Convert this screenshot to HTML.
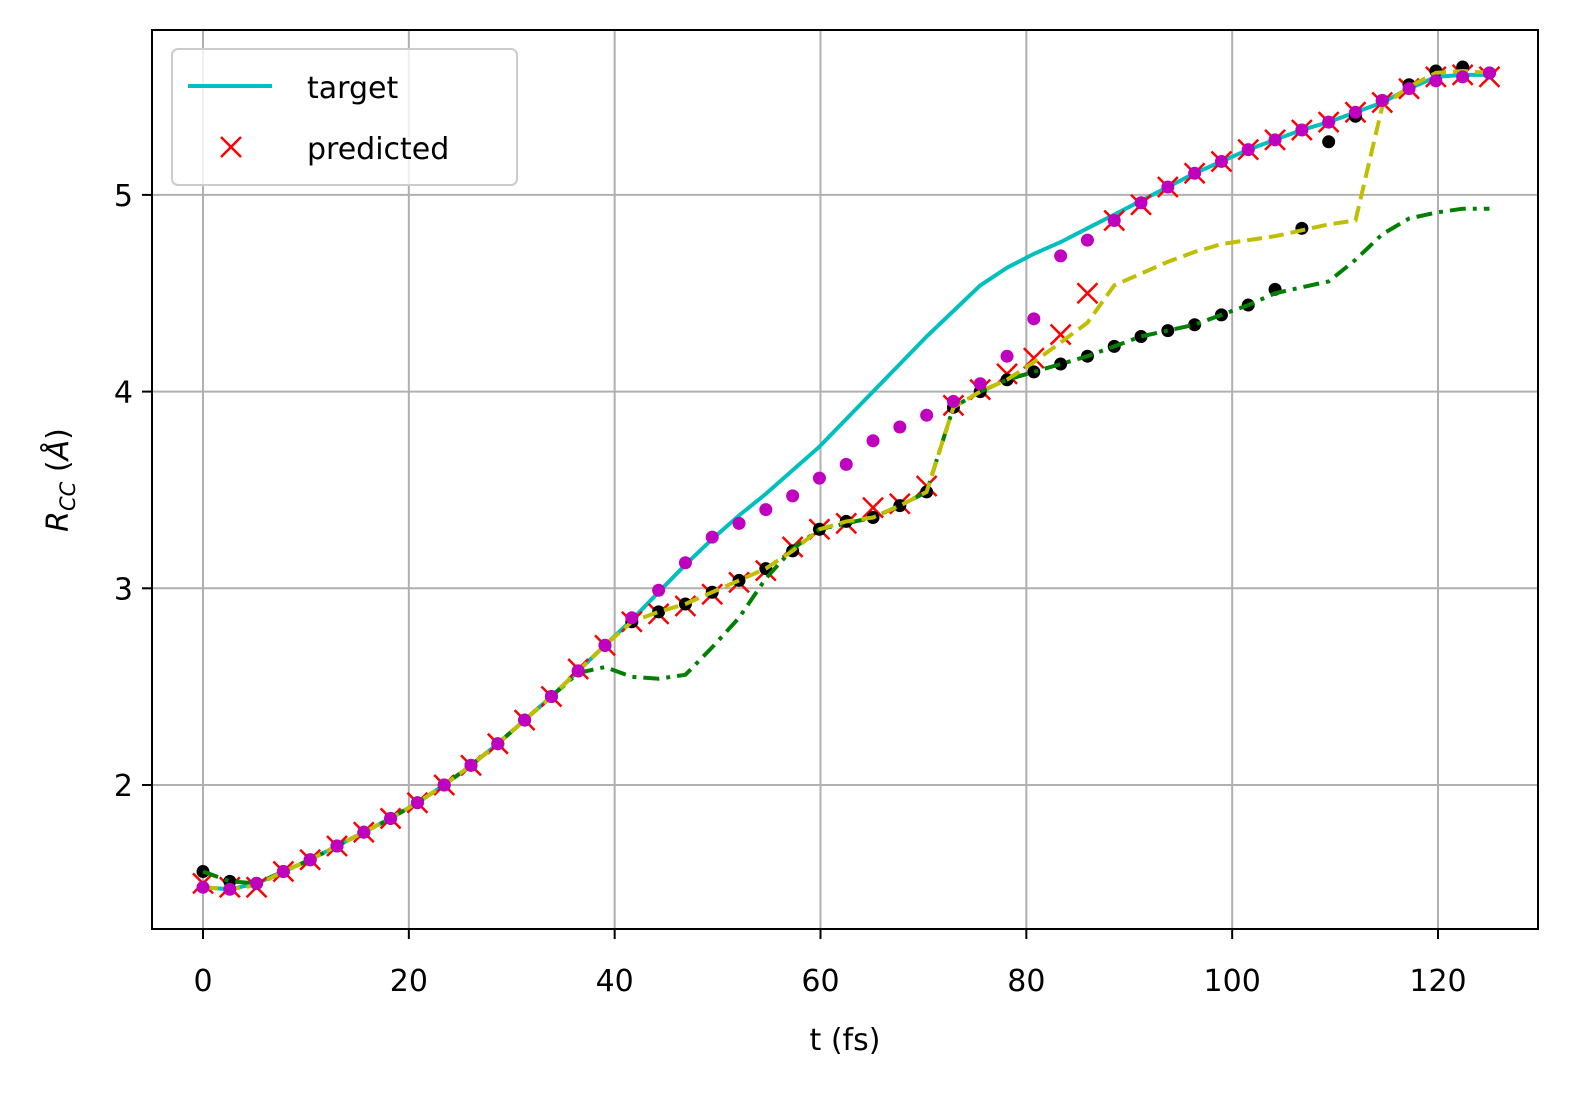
<!DOCTYPE html>
<html><head><meta charset="utf-8"><style>
body{margin:0;background:#fff}
svg text{font-family:"DejaVu Sans","Liberation Sans",sans-serif;fill:#000}
</style></head><body>
<svg id="c" width="1577" height="1095" xmlns="http://www.w3.org/2000/svg">
<rect width="1577" height="1095" fill="#fff"/>
<g id="grid"></g>
<g id="series"></g>
<rect x="152" y="30" width="1386" height="899" fill="none" stroke="#000" stroke-width="2"/>
<g id="ticks"></g>
<text x="845" y="1050" font-size="30" text-anchor="middle">t (fs)</text>
<text transform="translate(68,480) rotate(-90)" font-size="30" text-anchor="middle"><tspan font-style="italic">R</tspan><tspan font-style="italic" font-size="21" dy="7">CC</tspan><tspan dy="-7"> (</tspan><tspan font-style="italic">Å</tspan>)</text>
<g>
<rect x="172" y="49" width="345" height="136" rx="6" fill="#fff" fill-opacity="0.8" stroke="#ccc" stroke-width="2"/>
<line x1="188" y1="86" x2="272" y2="86" stroke="#00bfbf" stroke-width="4"/>
<text x="307" y="98" font-size="30">target</text>
<path d="M221 137 L241 157 M241 137 L221 157" stroke="#f00" stroke-width="2.5"/>
<text x="307" y="159" font-size="30">predicted</text>
</g>
</svg>
<script>
const xTicks=[0,20,40,60,80,100,120];
const yTicks=[2,3,4,5];
const target=[1.48,1.47,1.50,1.56,1.62,1.69,1.76,1.83,1.91,2.00,2.10,2.21,2.33,2.45,2.58,2.71,2.84,2.98,3.12,3.25,3.37,3.48,3.60,3.72,3.86,4.00,4.14,4.28,4.41,4.54,4.63,4.70,4.76,4.83,4.90,4.97,5.04,5.11,5.17,5.23,5.28,5.33,5.37,5.42,5.47,5.54,5.60,5.61,5.61];
const predicted=[1.50,1.48,1.48,1.56,1.62,1.69,1.76,1.83,1.91,2.00,2.10,2.21,2.33,2.45,2.59,2.71,2.83,2.87,2.91,2.97,3.03,3.09,3.21,3.30,3.33,3.41,3.43,3.52,3.93,4.01,4.09,4.17,4.29,4.50,4.87,4.95,5.04,5.11,5.17,5.23,5.28,5.33,5.37,5.42,5.47,5.54,5.60,5.61,5.60];
const magenta=[1.48,1.47,1.50,1.56,1.62,1.69,1.76,1.83,1.91,2.00,2.10,2.21,2.33,2.45,2.58,2.71,2.85,2.99,3.13,3.26,3.33,3.40,3.47,3.56,3.63,3.75,3.82,3.88,3.95,4.04,4.18,4.37,4.69,4.77,4.87,4.96,5.04,5.11,5.17,5.23,5.28,5.33,5.37,5.42,5.48,5.54,5.58,5.60,5.62];
const black=[1.56,1.51,1.50,1.56,1.62,1.69,1.76,1.83,1.91,2.00,2.10,2.21,2.33,2.45,2.58,2.71,2.83,2.88,2.92,2.98,3.04,3.10,3.19,3.30,3.34,3.36,3.42,3.49,3.92,4.00,4.06,4.10,4.14,4.18,4.23,4.28,4.31,4.34,4.39,4.44,4.52,4.83,5.27,5.40,5.48,5.56,5.63,5.65,5.62];
const yellow=[1.48,1.47,1.49,1.56,1.62,1.69,1.76,1.83,1.91,2.00,2.10,2.21,2.33,2.45,2.58,2.71,2.83,2.88,2.92,2.98,3.04,3.10,3.19,3.30,3.34,3.36,3.42,3.49,3.92,4.00,4.06,4.15,4.25,4.35,4.54,4.60,4.66,4.71,4.75,4.77,4.79,4.82,4.85,4.87,5.45,5.55,5.62,5.63,5.62];
const green=[1.56,1.51,1.50,1.56,1.62,1.69,1.76,1.83,1.91,2.00,2.10,2.21,2.33,2.45,2.57,2.60,2.55,2.54,2.56,2.70,2.85,3.05,3.20,3.30,3.33,3.36,3.42,3.49,3.92,4.00,4.06,4.10,4.14,4.18,4.23,4.28,4.31,4.34,4.39,4.44,4.50,4.53,4.56,4.67,4.80,4.88,4.91,4.93,4.93];
const NS='http://www.w3.org/2000/svg';
const X=v=>203+v*(1438-203)/120;
const Y=v=>785-(v-2)*196.7;
const T=i=>i*125/48;
function mk(tag,attrs,parent){const e=document.createElementNS(NS,tag);for(const k in attrs)e.setAttribute(k,attrs[k]);parent.appendChild(e);return e;}
const grid=document.getElementById('grid'),ticks=document.getElementById('ticks'),ser=document.getElementById('series');
xTicks.forEach(v=>{
 const l=mk('line',{x1:X(v),x2:X(v),y1:30,y2:929,stroke:'#b0b0b0','stroke-width':2},grid);
 
 
 mk('line',{x1:X(v),x2:X(v),y1:929,y2:939,stroke:'#000','stroke-width':2},ticks);
 const t=mk('text',{x:X(v),y:991,'font-size':30,'text-anchor':'middle'},ticks);t.textContent=v;
 
 
});
yTicks.forEach(v=>{
 const l=mk('line',{x1:152,x2:1538,y1:Y(v),y2:Y(v),stroke:'#b0b0b0','stroke-width':2},grid);
 
 
 mk('line',{x1:142,x2:152,y1:Y(v),y2:Y(v),stroke:'#000','stroke-width':2},ticks);
 const t=mk('text',{x:133,y:Y(v)+11,'font-size':30,'text-anchor':'end'},ticks);t.textContent=v;
 
 
});
function line(arr,color,dash,name){
 const d=arr.map((v,i)=>(i?'L':'M')+X(T(i)).toFixed(1)+' '+Y(v).toFixed(1)).join(' ');
 const p=mk('path',{d:d,fill:'none',stroke:color,'stroke-width':4,'stroke-dasharray':dash},ser);
 
 
}
line(target,'#00bfbf','none','target-line');
predicted.forEach((v,i)=>{
 const x=X(T(i)),y=Y(v);
 const p=mk('path',{d:`M${x-10} ${y-10}L${x+10} ${y+10}M${x+10} ${y-10}L${x-10} ${y+10}`,stroke:'#f00','stroke-width':2.5},ser);
 
 
});
black.forEach((v,i)=>{
 const c=mk('circle',{cx:X(T(i)),cy:Y(v),r:6.5,fill:'#000'},ser);
 
 
});
line(green,'#008000','16 7 4 7','green-dashdot-line');
line(yellow,'#bfbf00','15 7','yellow-dashed-line');
magenta.forEach((v,i)=>{
 const c=mk('circle',{cx:X(T(i)),cy:Y(v),r:6.5,fill:'#bf00bf'},ser);
 
 
});
</script>
</body></html>
